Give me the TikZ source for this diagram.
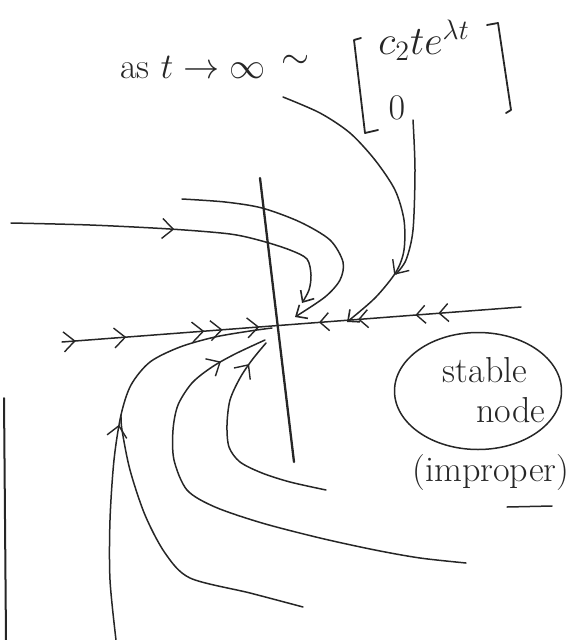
\documentclass[tikz,border=0pt]{standalone}
\usepackage{amsmath, amssymb}
\usetikzlibrary{arrows.meta, decorations.markings, shapes.geometric}

\tikzset{
  traj/.style={line width=1.5pt, line cap=round, line join=round},
  axisline/.style={line width=2.3pt, line cap=round},
  chev/.style={postaction={decorate, decoration={markings,
      mark=at position #1 with {\arrow{Straight Barb[length=11pt, width=20pt, line width=1.4pt]}}}}},
  vehc/.style={postaction={decorate, decoration={markings,
      mark=at position #1 with {\arrowreversed{Straight Barb[length=9pt, width=18pt, line width=1.4pt]}}}}},
  tipend/.style={-{Straight Barb[length=9pt, width=16pt, line width=1.6pt]}},
  hand/.style={font=\fontsize{20.74}{24}\selectfont, inner sep=0pt, scale=1.74},
}

\begin{document}
\begin{tikzpicture}[x=1pt, y=-1pt, black!85]
\useasboundingbox (0,0) rectangle (584,640);

% limit label and vector
\node[hand] (lim) at (193,68) {as $t\to\infty$};
\node[hand] (sim) at (296,62) {$\sim$};
\node[hand, scale=1.12] (top) at (424,40) {$c_2te^{\lambda t}$};
\node[hand] (bot) at (397,108) {$0$};
\draw[traj, line width=1.8pt] (361,38) -- (354,40) -- (365,133) -- (378,130);
\draw[traj, line width=1.8pt] (487,25) -- (498,23) -- (511,110) -- (506,113);

% axes
\coordinate (xl) at (62,342);
\coordinate (xr) at (521,307);
\coordinate (yt) at (260,178);
\coordinate (yb) at (294,462);
\draw[axisline] (yt) -- (yb);
\draw[traj, chev=0.03, chev=0.14, chev=0.31, chev=0.35, chev=0.43,
      vehc=0.56, vehc=0.645, vehc=0.77, vehc=0.82] (xl) -- (xr);

% trajectories from above
\draw[traj, tipend, chev=0.47] plot[smooth] coordinates {(11,223) (90,225) (170,229) (230,234) (262,241) (290,250) (307,259) (311,275) (309,290) (302,303)};
\draw[traj, tipend] plot[smooth] coordinates {(182,199) (225,202) (262,208) (300,222) (330,240) (343,262) (340,280) (325,297) (295,317)};
\draw[traj, tipend, chev=0.78] plot[smooth] coordinates {(283,97) (320,113) (350,133) (375,160) (395,190) (404,220) (404,250) (396,272) (375,298) (347,322)};
\draw[traj] plot[smooth] coordinates {(413,120) (415,170) (413,230) (406,260) (396,274)};

% trajectories from below
\draw[traj, chev=0.52] plot[smooth] coordinates {(116,640) (110,580) (110,520) (114,460) (121,415) (131,385) (150,362) (180,347) (215,337) (250,331) (272,328)};
\draw[traj] plot[smooth] coordinates {(303,607) (250,593) (190,578) (165,553) (145,515) (130,470) (122,430) (121,415)};
\draw[traj, chev=0.9] plot[smooth] coordinates {(466,563) (420,558) (375,550) (320,538) (262,523) (215,507) (187,490) (174,460) (173,430) (178,405) (192,383) (212,367) (235,354) (265,340)};
\draw[traj, chev=0.88] plot[smooth] coordinates {(326,490) (290,482) (262,473) (240,462) (229,447) (227,425) (230,400) (240,378) (252,360) (266,343)};

% page edge
\draw[traj, line width=2pt] (4,398) -- (6,640);

% classification
\node[draw, ellipse, traj, minimum width=167pt, minimum height=117pt] (sn) at (478,391) {};
\node[hand] (snA) at (485,370) {stable};
\node[hand] (snB) at (511,410) {node};
\node[hand] (imp) at (491,472) {(improper)};
\draw[traj] (507,507) -- (552,506);
\end{tikzpicture}
\end{document}
